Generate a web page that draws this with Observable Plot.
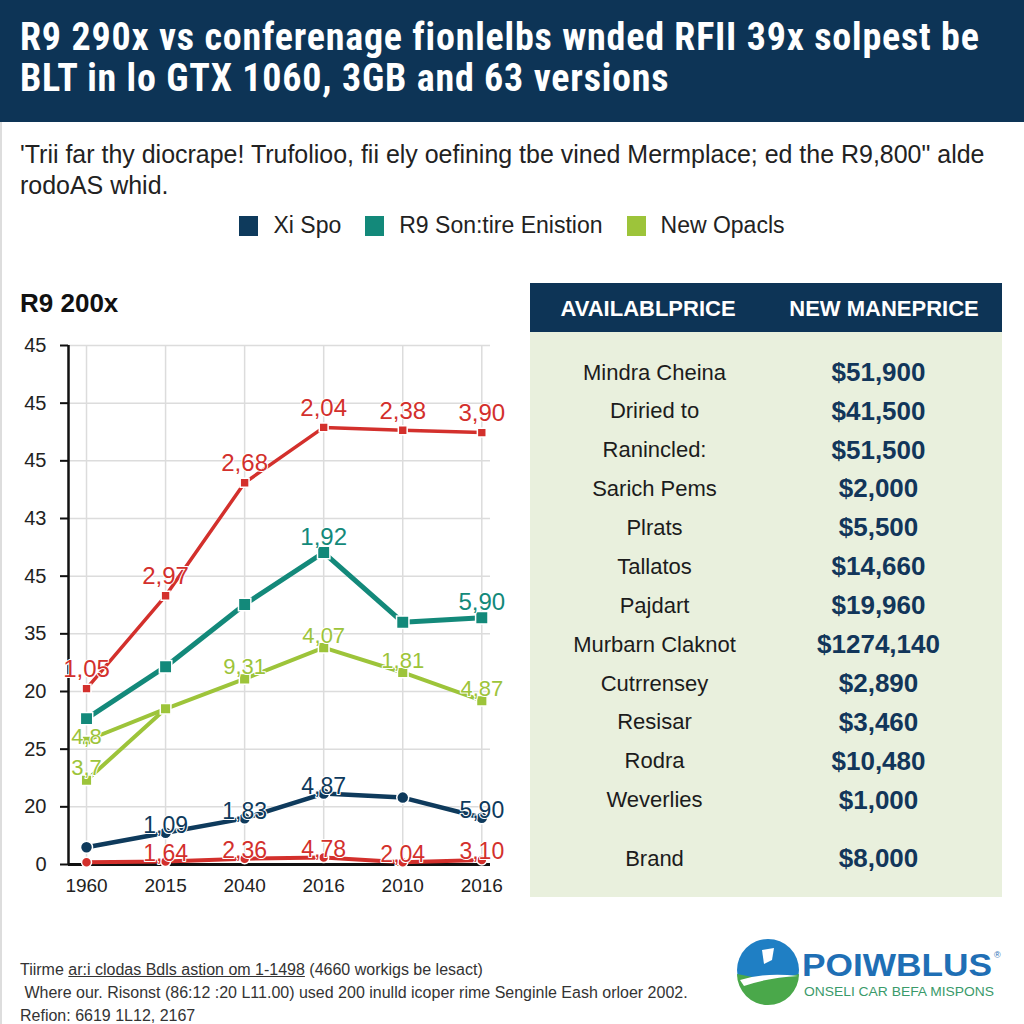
<!DOCTYPE html>
<html>
<head>
<meta charset="utf-8">
<script src="https://cdn.jsdelivr.net/npm/d3@7"></script>
<script src="https://cdn.jsdelivr.net/npm/@observablehq/plot@0.6"></script>
<style>
  html, body { margin: 0; padding: 0; }
  body { width: 1024px; height: 1024px; position: relative; overflow: hidden; background: #fff; font-family: "Liberation Sans", Arial, sans-serif; }
  .abs { position: absolute; }
  .line { display: block; white-space: nowrap; transform-origin: 0 50%; }
  #header { left: 0; top: 0; width: 1024px; height: 122px; background: #0d3456; }
  #title { left: 20px; top: 17px; width: 1000px; color: #fff; font-family: "Liberation Sans Narrow", "Roboto Condensed", "Liberation Sans", sans-serif; font-weight: bold; font-size: 38px; letter-spacing: 0.8px; line-height: 41px; }
  #subtitle { left: 20px; top: 139px; width: 1100px; color: #222; font-size: 26px; line-height: 31px; }
  #legend { left: 0; top: 212px; width: 1024px; display: flex; justify-content: center; align-items: center; font-size: 23px; color: #222; }
  #legend .sw { width: 19px; height: 20px; display: inline-block; margin-right: 15px; }
  #legend .it { display: flex; align-items: center; margin: 0 12px; }
  #ctitle { left: 20px; top: 288px; font-weight: bold; font-size: 26px; color: #111; }
  #chart { left: 0; top: 330px; }
  #thead { left: 530px; top: 283px; width: 472px; height: 49px; background: #0d3456; color: #fff; font-family: "Liberation Sans Narrow", "Liberation Sans", sans-serif; font-weight: bold; font-size: 22px; }
  #thead span { position: absolute; top: 13px; transform: translateX(-50%); white-space: nowrap; }
  #tbody { left: 530px; top: 332px; width: 472px; height: 565px; background: #e9f0dd; }
  #footer { left: 20px; top: 958px; font-size: 16px; line-height: 23px; color: #333; }
  #logo { left: 736px; top: 936px; width: 270px; height: 70px; }
  #leftline { left: 0; top: 122px; width: 2px; height: 902px; background: #ddd; }
</style>
</head>
<body>
<div class="abs" id="leftline"></div>
<div class="abs" id="header"></div>
<div class="abs" id="title"><span class="line">R9 290x vs conferenage fionlelbs wnded RFII 39x solpest be</span><span class="line">BLT in lo GTX 1060, 3GB and 63 versions</span></div>
<div class="abs" id="subtitle"><span class="line" style="transform:scaleX(0.96)">'Trii far thy diocrape! Trufolioo, fii ely oefining tbe vined Mermplace; ed the R9,800" alde</span><span class="line" style="transform:scaleX(0.96)">rodoAS whid.</span></div>
<div class="abs" id="legend"></div>
<div class="abs" id="ctitle">R9 200x</div>
<div class="abs" id="chart"></div>
<div class="abs" id="thead"></div>
<div class="abs" id="tbody"></div>
<div class="abs" id="footer">Tiirme <span style="text-decoration:underline">ar:i clodas Bdls astion om 1-1498</span> (4660 workigs be lesact)<br>&nbsp;Where our. Risonst (86:12 :20 L11.00) used 200 inulld icoper rime Senginle Eash orloer 2002.<br>Refion: 6619 1L12, 2167</div>
<div class="abs" id="logo">
  <svg width="270" height="70" viewBox="0 0 270 70">
    <circle cx="32" cy="34" r="31" fill="#1f7fc4"/>
    <path d="M1,38 A31,31 0 0 0 63,38 Q34,46 1,38 Z" fill="#4aa84a"/>
    <path d="M4,44 Q30,36 62,40 Q30,42 8,50 Z" fill="#fff"/>
    <path d="M26,14 L38,12 L36,24 L28,28 Z" fill="#fff"/>
    <text x="66" y="40" font-family="Liberation Sans, Arial" font-weight="bold" font-size="31" fill="#1f6fb5" textLength="190" lengthAdjust="spacingAndGlyphs">POIWBLUS</text>
    <text x="258" y="22" font-family="Liberation Sans" font-size="9" fill="#1f6fb5">®</text>
    <text x="68" y="60" font-family="Liberation Sans Narrow, Liberation Sans" font-size="13" fill="#3a9a6a" textLength="190" lengthAdjust="spacingAndGlyphs">ONSELI CAR BEFA MISPONS</text>
  </svg>
</div>
<script>
// ---------- data ----------
const xLabels = ["1960", "2015", "2040", "2016", "2010", "2016"];
const yTickLabels = ["0", "20", "25", "20", "35", "45", "43", "45", "45", "45"]; // bottom to top

const redTop = [3.05, 4.66, 6.62, 7.58, 7.53, 7.49];
const redTopLabels = ["1,05", "2,97", "2,68", "2,04", "2,38", "3,90"];

const teal = [2.53, 3.43, 4.51, 5.41, 4.20, 4.28];
const tealLabels = ["", "", "", "1,92", "", "5,90"];

const green = [1.46, 2.70, 3.22, 3.76, 3.33, 2.84];
const greenLabels = ["3,7", "", "9,31", "4,07", "1,81", "4,87"];

const greenAlt = [2.15, 2.70];
const greenAltLabels = ["4,8", ""];

const navy = [0.30, 0.55, 0.80, 1.23, 1.16, 0.81];
const navyLabels = ["", "1,09", "1,83", "4,87", "", "5,90"];

const redBottom = [0.04, 0.05, 0.10, 0.12, 0.04, 0.08];
const redBottomLabels = ["", "1,64", "2,36", "4,78", "2,04", "3,10"];

const legendNames = ["Xi Spo", "R9 Son:tire Enistion", "New Opacls"];
const legendColors = ["#0e3a5c", "#13897a", "#9dc43a"];

const tableHeaders = ["AVAILABLPRICE", "NEW MANEPRICE"];
const tableNames = ["Mindra Cheina", "Driried to", "Ranincled:", "Sarich Pems", "Plrats", "Tallatos", "Pajdart", "Murbarn Claknot", "Cutrrensey", "Resisar", "Rodra", "Weverlies", "Brand"];
const tablePrices = ["$51,900", "$41,500", "$51,500", "$2,000", "$5,500", "$14,660", "$19,960", "$1274,140", "$2,890", "$3,460", "$10,480", "$1,000", "$8,000"];

// ---------- colors ----------
const RED = "#d3302c", TEAL = "#13897a", GREEN = "#9dc43a", NAVY = "#0e3a5c";

// ---------- legend ----------
const lg = document.getElementById("legend");
legendNames.forEach((n, i) => {
  const it = document.createElement("div");
  it.className = "it";
  it.innerHTML = `<span class="sw" style="background:${legendColors[i]}"></span><span>${n}</span>`;
  lg.appendChild(it);
});

// ---------- chart ----------
function mk(vals, labels) {
  return vals.map((v, i) => ({ i, v, label: labels[i] }));
}
const sRedTop = mk(redTop, redTopLabels);
const sTeal = mk(teal, tealLabels);
const sGreen = mk(green, greenLabels);
const sGreenAlt = mk(greenAlt, greenAltLabels);
const sNavy = mk(navy, navyLabels);
const sRedBottom = mk(redBottom, redBottomLabels);

const xs = d3.range(xLabels.length);
const ys = d3.range(yTickLabels.length);
const lblStyle = { stroke: "white", strokeWidth: 2, paintOrder: "stroke" };

function seriesMarks(data, color, sw, symbol, r) {
  return [
    Plot.line(data, { x: "i", y: "v", stroke: color, strokeWidth: sw, strokeLinejoin: "round", strokeLinecap: "round" }),
    Plot.dot(data, { x: "i", y: "v", fill: color, stroke: "white", strokeWidth: 1.5, symbol, r })
  ];
}
function labelMarks(data, color, dy, size) {
  return Plot.text(data.filter(d => d.label), { x: "i", y: "v", text: "label", fill: color, dy, ...lblStyle, fontSize: size || 24 });
}

const chart = Plot.plot({
  width: 520,
  height: 579,
  marginLeft: 68,
  marginRight: 30,
  marginTop: 15,
  marginBottom: 45,
  style: { fontFamily: "Liberation Sans, Arial, sans-serif", background: "transparent" },
  x: { domain: [-0.228, 5.11], label: null },
  y: { domain: [0, 9], label: null },
  marks: [
    Plot.gridX(xs, { stroke: "#dcdcdc", strokeOpacity: 1, strokeWidth: 1.5 }),
    Plot.gridY(ys, { stroke: "#dcdcdc", strokeOpacity: 1, strokeWidth: 1.5 }),
    Plot.axisY(ys, { tickFormat: i => yTickLabels[i], tickSize: 8, tickPadding: 14, fontSize: 20, stroke: "#111", strokeWidth: 2, fill: "#222" }),
    Plot.axisX(xs, { tickFormat: i => xLabels[i], tickSize: 0, tickPadding: 14, fontSize: 19, fill: "#222" }),
    Plot.ruleX([-0.228], { stroke: "#111", strokeWidth: 2.5 }),
    Plot.ruleY([0], { stroke: "#111", strokeWidth: 3 }),
    ...seriesMarks(sRedTop, RED, 3.5, "square", 5),
    ...seriesMarks(sTeal, TEAL, 5, "square", 7),
    ...seriesMarks(sGreenAlt, GREEN, 4, "square", 5),
    ...seriesMarks(sGreen, GREEN, 4, "square", 6),
    ...seriesMarks(sNavy, NAVY, 4.5, "circle", 6),
    ...seriesMarks(sRedBottom, RED, 4, "circle", 5),
    labelMarks(sRedTop, RED, -19),
    labelMarks(sTeal, TEAL, -15),
    labelMarks(sGreen, GREEN, -12, 22),
    labelMarks(sGreenAlt, GREEN, -4, 22),
    labelMarks(sNavy, NAVY, -7, 23),
    labelMarks(sRedBottom, RED, -8, 23)
  ]
});
document.getElementById("chart").appendChild(chart);

// ---------- table ----------
const th = document.getElementById("thead");
[118, 354].forEach((cx, i) => {
  const s = document.createElement("span");
  s.style.left = cx + "px";
  s.textContent = tableHeaders[i];
  th.appendChild(s);
});
const rows = tableNames.map((n, i) => ({ name: n, price: tablePrices[i], idx: i + (i === tableNames.length - 1 ? 0.5 : 0) }));
const table = Plot.plot({
  width: 472,
  height: 565,
  margin: 0,
  style: { fontFamily: "Liberation Sans, Arial, sans-serif", background: "transparent" },
  x: { type: "band", domain: ["name", "price"], range: [0, 472], axis: null },
  y: { domain: [0, 12.5], range: [40, 526], axis: null },
  marks: [
    Plot.text(rows, { x: () => "name", y: "idx", text: "name", fontSize: 22, fill: "#1c1c1c" }),
    Plot.text(rows, { x: () => "price", y: "idx", text: "price", fontSize: 26, fontWeight: "bold", fill: "#12365a" })
  ]
});
document.getElementById("tbody").appendChild(table);
</script>
</body>
</html>
